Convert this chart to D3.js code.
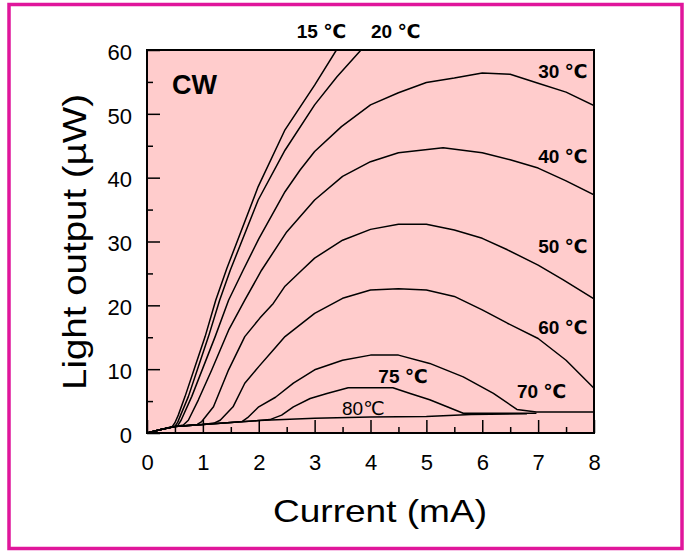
<!DOCTYPE html>
<html><head><meta charset="utf-8">
<script src="https://cdn.jsdelivr.net/npm/d3@7"></script>
<style>body{margin:0;background:#fff}svg{display:block}</style>
</head><body>
<svg id="c" width="686" height="556"></svg>
<script>
const xTicks = [0,1,2,3,4,5,6,7,8];
const yTicks = [0,10,20,30,40,50,60];
const xMinor = [0.5,1.5,2.5,3.5,4.5,5.5,6.5,7.5];
const yMinor = [5,15,25,35,45,55];

const c15 = [[0,0],[0.25,0.55],[0.45,1.0],[0.5,1.6],[0.56,2.8],[0.68,5.7],[0.86,10.4],[1.04,15.1],[1.23,20.8],[1.43,25.8],[1.99,38.6],[2.47,47.5],[3.0,54.5],[3.39,60]];
const c20 = [[0,0],[0.25,0.55],[0.5,1.05],[0.55,1.7],[0.74,5.7],[0.92,10.4],[1.10,15.1],[1.30,20.8],[1.49,25.5],[1.99,36.5],[2.47,44.3],[3.0,51.4],[3.4,55.8],[3.83,60]];
const c30 = [[0,0],[0.25,0.55],[0.55,1.15],[0.61,2.0],[0.8,5.7],[1.01,10.4],[1.22,15.1],[1.46,20.8],[1.72,25.5],[2.0,30.4],[2.47,37.8],[2.74,41.2],[3.0,44.1],[3.48,48.0],[4.0,51.4],[4.5,53.3],[5.0,54.9],[5.5,55.6],[6.0,56.4],[6.5,56.2],[7.0,54.8],[7.5,53.4],[8.0,51.3]];
const c40 = [[0,0],[0.25,0.55],[0.5,1.0],[0.65,1.25],[0.74,2.0],[0.92,5.2],[1.16,9.9],[1.46,16.1],[1.75,20.8],[2.05,25.5],[2.5,31.5],[3.0,36.5],[3.5,40.2],[4.0,42.5],[4.5,43.9],[5.3,44.7],[6.0,43.9],[6.5,42.8],[7.0,41.5],[7.5,39.5],[8.0,37.3]];
const c50 = [[0,0],[0.25,0.55],[0.5,1.0],[0.9,1.35],[0.98,1.8],[1.19,4.1],[1.46,9.9],[1.75,15.1],[2.02,18.0],[2.26,20.3],[2.47,23.0],[2.77,25.5],[3.0,27.4],[3.5,30.2],[4.0,31.9],[4.5,32.7],[5.0,32.7],[5.5,31.8],[6.0,30.5],[6.45,28.7],[7.0,26.3],[7.45,24.0],[8.0,21.0]];
const c60 = [[0,0],[0.25,0.55],[0.5,1.0],[1.0,1.35],[1.2,1.55],[1.31,2.0],[1.54,4.1],[1.75,7.8],[2.0,10.4],[2.26,13.0],[2.47,15.1],[3.0,18.75],[3.5,21.1],[4.0,22.4],[4.5,22.6],[5.0,22.4],[5.5,21.4],[6.0,19.3],[6.45,17.2],[7.0,14.8],[7.5,11.4],[8.0,7.0]];
const c70 = [[0,0],[0.25,0.55],[0.5,1.0],[1.0,1.35],[1.5,1.65],[1.7,1.8],[1.8,2.4],[2.0,4.1],[2.3,5.6],[2.62,7.8],[3.0,9.9],[3.5,11.4],[4.0,12.2],[4.5,12.2],[5.06,10.9],[5.66,8.8],[6.2,6.2],[6.62,3.7],[6.97,3.3],[8.0,3.3]];
const c75 = [[0,0],[0.25,0.55],[0.5,1.0],[1.0,1.35],[1.5,1.65],[2.0,1.95],[2.2,2.1],[2.41,2.8],[2.62,4.1],[2.92,5.4],[3.22,6.2],[3.6,7.1],[4.4,7.1],[4.71,6.2],[5.06,5.2],[5.66,3.1],[6.97,3.1]];
const c80 = [[0,0],[0.25,0.55],[0.5,1.0],[1.0,1.35],[1.5,1.65],[2.0,1.95],[3.0,2.3],[4.0,2.5],[5.0,2.6],[5.8,2.9],[6.8,3.0]];
const curves = [c15,c20,c30,c40,c50,c60,c70,c75,c80];

const labelNum = ["15","20","30","40","50","60","75","70","80"];
const labelSep = [" "," "," "," "," "," "," "," ",""];
const labelAt = [[2.68,61.9],[4.01,61.9],[7.0,55.6],[7.0,42.3],[7.0,28.2],[7.0,15.5],[4.14,7.8],[6.62,5.5],[3.49,2.8]];
const labelBold = [true,true,true,true,true,true,true,true,false];

const svg = d3.select("#c");
const font = "Arial, 'Liberation Sans', sans-serif";

svg.append("rect").attr("x",9).attr("y",4.5).attr("width",673).attr("height",544)
  .attr("fill","#fff").attr("stroke","#e0169b").attr("stroke-width",3.5);

const L=147,R=594,T=50,B=433;
const x = d3.scaleLinear().domain([0,8]).range([L,R]);
const y = d3.scaleLinear().domain([0,60]).range([B,T]);

svg.append("rect").attr("x",L).attr("y",T).attr("width",R-L).attr("height",B-T).attr("fill","#ffcccc");

svg.append("clipPath").attr("id","cp").append("rect").attr("x",L).attr("y",T).attr("width",R-L).attr("height",B-T);

const line = d3.line().x(d=>x(d[0])).y(d=>y(d[1]));
svg.append("g").attr("clip-path","url(#cp)").selectAll("path").data(curves).join("path")
  .attr("d",line).attr("fill","none").attr("stroke","#000").attr("stroke-width",1.5).attr("stroke-linejoin","round");

const gx = svg.append("g").attr("transform",`translate(0,${B})`)
  .call(d3.axisBottom(x).tickValues(xTicks).tickSizeInner(-13).tickSizeOuter(0).tickPadding(21).tickFormat(d3.format("d")));
const gxm = svg.append("g").attr("transform",`translate(0,${B})`)
  .call(d3.axisBottom(x).tickValues(xMinor).tickSizeInner(-6).tickSizeOuter(0).tickFormat(""));
const gy = svg.append("g").attr("transform",`translate(${L},0)`)
  .call(d3.axisLeft(y).tickValues(yTicks).tickSizeInner(-13).tickSizeOuter(0).tickPadding(15).tickFormat(d3.format("d")));
const gym = svg.append("g").attr("transform",`translate(${L},0)`)
  .call(d3.axisLeft(y).tickValues(yMinor).tickSizeInner(-6).tickSizeOuter(0).tickFormat(""));
[gx,gxm,gy,gym].forEach(g=>{
  g.select(".domain").remove();
  g.selectAll(".tick line").attr("stroke","#000").attr("stroke-width",1.5);
  g.selectAll("text").attr("font-family",font).attr("font-size",22).attr("fill","#000");
});
gy.selectAll("text").attr("dy","0.42em");

svg.append("rect").attr("x",L).attr("y",T).attr("width",R-L).attr("height",B-T)
  .attr("fill","none").attr("stroke","#000").attr("stroke-width",2);

const lab = svg.append("g").selectAll("text").data(labelNum).join("text")
  .attr("x",(d,i)=>x(labelAt[i][0])).attr("y",(d,i)=>y(labelAt[i][1]))
  .attr("font-family",font).attr("font-size",19)
  .attr("font-weight",(d,i)=>labelBold[i]?"bold":"normal").attr("fill","#000");
lab.append("tspan").attr("font-family",font).text((d,i)=>d+labelSep[i]);
lab.append("tspan").attr("font-family","'DejaVu Sans', sans-serif").attr("font-size",19).text("℃");

svg.append("text").attr("x",172).attr("y",94).attr("font-family",font).attr("font-size",27)
  .attr("font-weight","bold").text("CW");

svg.append("text").attr("x",273).attr("y",522)
  .attr("font-family",font).attr("font-size",32)
  .attr("textLength",214).attr("lengthAdjust","spacingAndGlyphs").text("Current (mA)");
svg.append("text").attr("transform","translate(86,390) rotate(-90)")
  .attr("font-family",font).attr("font-size",33)
  .attr("textLength",296).attr("lengthAdjust","spacingAndGlyphs").text("Light output (µW)");
</script>
</body></html>
